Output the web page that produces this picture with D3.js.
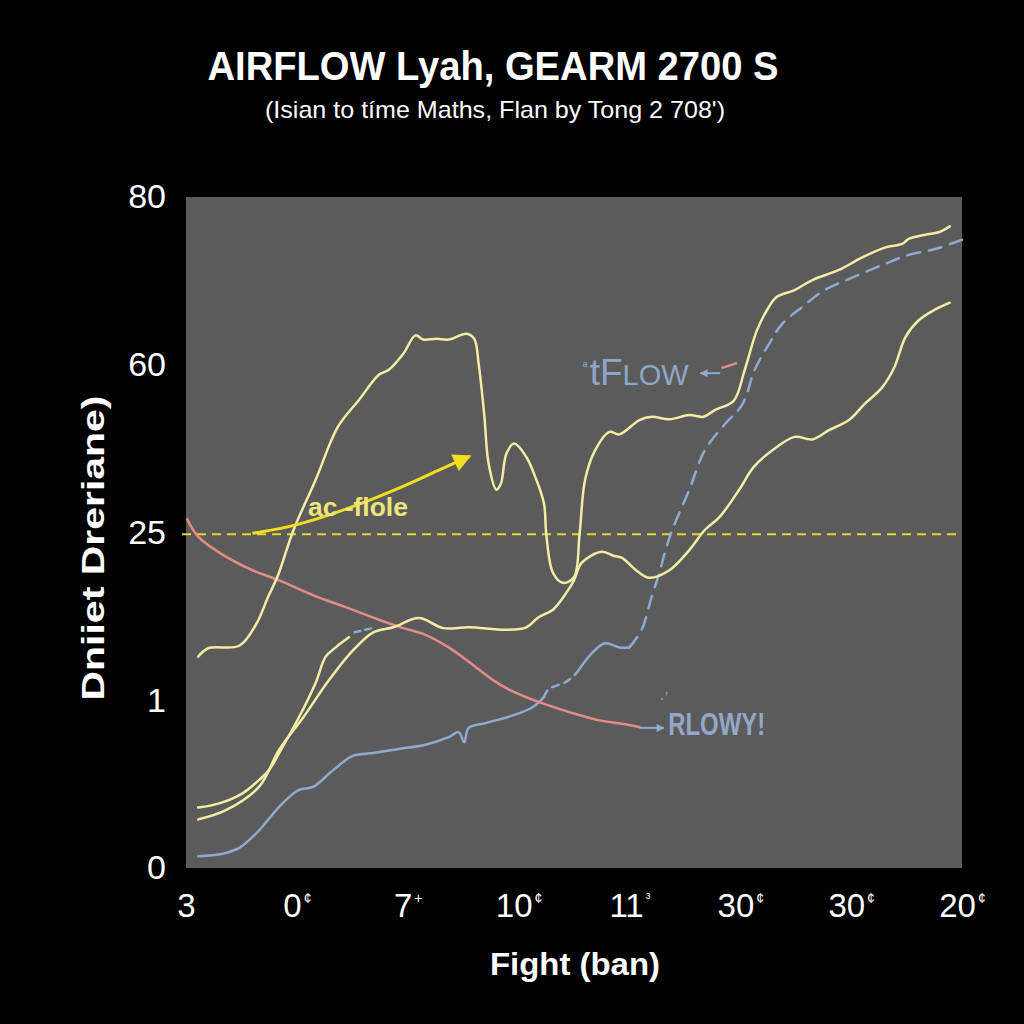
<!DOCTYPE html>
<html>
<head>
<meta charset="utf-8">
<script src="https://cdn.jsdelivr.net/npm/d3@7"></script>
<style>
  body { margin: 0; background: #000; }
  text { font-family: "Liberation Sans", Arial, sans-serif; }
</style>
</head>
<body>
<div id="chart"></div>
<script>
// tick labels (as printed on the picture)
var xTickValues = [0, 10, 20, 30, 40, 50, 60, 70];
var xTickLabels = ["3", "0", "7", "10", "11", "30", "30", "20"];
var xTickMarks = ["", "\u00a2", "+", "\u00a2", "\u00b3", "\u00a2", "\u00a2", "\u00a2"];
var yTickValues = [0, 20, 40, 60, 80];
var yTickLabels = ["0", "1", "25", "60", "80"];

// series, [x, y]
var humpLine = [[1.1,25.2],[2.0,26.2],[4.8,26.5],[6.3,29.0],[7.4,32.3],[8.3,34.9],[9.7,40.3],[11.7,46.3],
  [13.7,52.6],[15.6,55.8],[17.4,58.8],[18.3,59.4],[19.6,61.3],[20.7,63.5],[21.4,63.0],[22.6,63.1],[23.7,63.0],
  [25.3,63.7],[26.0,63.1],[26.4,60.1],[26.9,54.1],[27.3,48.2],[28.0,45.1],[28.4,45.8],[28.9,49.4],[29.6,50.6],
  [30.7,49.0],[31.6,46.3],[32.3,43.4],[32.5,39.8],[33.1,35.2],[34.0,34.0],[35.0,34.7],[35.5,39.8],[36.0,46.3],
  [36.9,49.8],[38.2,52.0],[39.1,51.7],[40.9,53.4],[42.0,53.8],[43.6,53.5],[45.4,54.0],[46.7,53.8],[47.7,54.6],
  [49.4,55.7],[50.4,59.4],[51.5,64.1],[52.4,66.5],[53.3,68.1],[54.9,68.9],[56.5,70.1],[58.9,71.3],[61.0,72.8],
  [63.1,74.0],[64.6,74.4],[65.2,75.0],[66.7,75.5],[67.9,75.8],[68.9,76.5]];

var midLine = [[1.1,5.8],[3.6,6.9],[6.6,9.7],[8.4,14.1],[10.6,18.0],[12.9,22.4],[15.1,26.0],[16.9,28.1],
  [18.7,28.7],[21.0,29.8],[23.2,28.6],[25.5,28.7],[28.9,28.4],[30.7,28.7],[31.8,29.9],[33.1,30.8],[34.3,32.8],
  [35.0,34.3],[35.7,36.4],[37.5,37.7],[38.6,37.2],[39.3,37.0],[40.6,35.5],[41.8,34.6],[43.6,35.5],[45.4,37.9],
  [46.8,40.3],[48.1,41.8],[49.9,45.1],[51.2,47.8],[52.9,49.8],[54.9,51.4],[56.5,51.1],[58.0,52.2],[59.8,53.4],
  [61.2,55.3],[62.8,57.3],[63.9,59.7],[64.9,63.3],[66.1,65.3],[67.6,66.6],[68.9,67.4]];

var shortLine = [[1.1,7.2],[3.0,7.7],[5.1,8.9],[6.6,10.5],[7.5,11.7],[8.7,14.4],[10.2,18.0],[11.7,22.1],
  [12.6,25.2],[13.5,26.3],[14.7,27.5]];
var shortTail = [[15.2,28.1],[16.8,28.6]];

var blueLine = [[1.1,1.4],[3.3,1.7],[4.8,2.4],[6.6,4.5],[8.4,7.3],[9.9,9.1],[10.4,9.4],[11.5,9.7],[13.3,11.7],
  [15.1,13.4],[16.9,13.7],[19.2,14.2],[21.6,14.7],[23.7,15.6],[24.6,16.2],[25.1,15.0],[25.5,16.7],[27.1,17.3],
  [29.5,18.2],[31.3,19.2],[32.3,20.4],[32.7,21.3],[34.3,22.2],[35.2,23.2],[36.6,25.6],[37.8,26.8],[39.1,26.3],
  [40.0,26.3],[41.1,28.4],[42.0,32.3],[42.7,35.2],[43.2,37.6],[43.8,40.1],[45.4,45.1],[46.8,49.8],[48.6,52.9],
  [50.2,55.3],[51.3,59.4],[52.6,62.5],[53.8,64.9],[55.6,66.9],[57.6,68.9],[60.3,70.5],[63.0,72.0],[65.2,73.1],
  [67.6,73.8],[70.0,74.9]];

var pinkLine = [[0.1,41.6],[1.1,39.5],[3.0,37.6],[6.0,35.5],[8.4,34.3],[11.5,32.5],[14.4,31.1],[17.4,29.6],
  [19.6,28.6],[21.6,27.8],[23.7,26.3],[25.5,24.6],[27.7,22.4],[29.1,21.3],[31.8,19.8],[34.8,18.5],[37.3,17.6],
  [39.3,17.2],[40.9,16.8]];

var refLevel = 39.8;
var yellowArrow = [[6.0,39.9],[9.8,40.7],[14.8,42.9],[19.0,45.1],[22.9,47.5],[25.6,49.1]];

var svgWidth = 1024, svgHeight = 1024;
var margin = { top: 197, right: 62, bottom: 156, left: 186 };
var width = svgWidth - margin.left - margin.right;
var height = svgHeight - margin.top - margin.bottom;

var svg = d3.select("#chart").append("svg")
  .attr("width", svgWidth)
  .attr("height", svgHeight)
  .style("background", "#000");

var defs = svg.append("defs");
function addMarker(id, color, w, h) {
  defs.append("marker")
    .attr("id", id)
    .attr("viewBox", "0 0 10 10")
    .attr("refX", 9).attr("refY", 5)
    .attr("markerUnits", "userSpaceOnUse")
    .attr("markerWidth", w).attr("markerHeight", h)
    .attr("orient", "auto")
    .append("path").attr("d", "M0,0L10,5L0,10Z").attr("fill", color);
}
addMarker("arrowYellow", "#f2e020", 22, 18);
addMarker("arrowBlue", "#8faad0", 10, 8);

// titles
svg.append("text")
  .attr("x", 493).attr("y", 80)
  .attr("text-anchor", "middle")
  .attr("font-size", 40).attr("font-weight", "bold")
  .attr("textLength", 571).attr("lengthAdjust", "spacingAndGlyphs")
  .attr("fill", "#fff")
  .text("AIRFLOW Lyah, GEARM 2700 S");

svg.append("text")
  .attr("x", 495).attr("y", 118)
  .attr("text-anchor", "middle")
  .attr("font-size", 24)
  .attr("textLength", 460).attr("lengthAdjust", "spacingAndGlyphs")
  .attr("fill", "#fff")
  .text("(Isian to t\u00edme Maths, Flan by Tong 2 708')");

var chartGroup = svg.append("g")
  .attr("transform", `translate(${margin.left}, ${margin.top})`);

chartGroup.append("rect")
  .attr("width", width).attr("height", height)
  .attr("fill", "#5b5b5b");

var x = d3.scaleLinear().domain([0, 70]).range([0, width]);
var y = d3.scaleLinear().domain([0, 80]).range([height, 0]);

// axes
var bottomAxis = d3.axisBottom(x).tickValues(xTickValues)
  .tickFormat((d, i) => xTickLabels[i]).tickSize(0).tickPadding(26);
var leftAxis = d3.axisLeft(y).tickValues(yTickValues)
  .tickFormat((d, i) => yTickLabels[i]).tickSize(0).tickPadding(20);

var xAxisG = chartGroup.append("g")
  .attr("transform", `translate(0, ${height})`)
  .call(bottomAxis);
xAxisG.select(".domain").remove();
xAxisG.selectAll("text")
  .attr("font-size", 33).attr("fill", "#fff")
  .style("font-family", "'Liberation Sans', Arial, sans-serif")
  .each(function(d, i) {
    if (xTickMarks[i]) {
      d3.select(this).append("tspan")
        .attr("font-size", 14).attr("dy", "-1.0em").attr("dx", 2)
        .text(xTickMarks[i]);
    }
  });

var yAxisG = chartGroup.append("g").call(leftAxis);
yAxisG.select(".domain").remove();
yAxisG.selectAll("text")
  .attr("font-size", 34).attr("fill", "#fff")
  .style("font-family", "'Liberation Sans', Arial, sans-serif");

// axis titles
svg.append("text")
  .attr("transform", "translate(104, 548) rotate(-90)")
  .attr("text-anchor", "middle")
  .attr("font-size", 32).attr("font-weight", "bold")
  .attr("textLength", 305).attr("lengthAdjust", "spacingAndGlyphs")
  .attr("fill", "#fff")
  .text("Dniiet Dreriane)");

svg.append("text")
  .attr("x", 575).attr("y", 975)
  .attr("text-anchor", "middle")
  .attr("font-size", 31).attr("font-weight", "bold")
  .attr("textLength", 170).attr("lengthAdjust", "spacingAndGlyphs")
  .attr("fill", "#fff")
  .text("Fight (ban)");

// reference dashed line
chartGroup.append("line")
  .attr("x1", -4).attr("x2", width)
  .attr("y1", y(refLevel)).attr("y2", y(refLevel))
  .attr("stroke", "#e6d62a").attr("stroke-width", 2)
  .attr("stroke-dasharray", "9,6");

var line = d3.line()
  .x(d => x(d[0]))
  .y(d => y(d[1]))
  .curve(d3.curveCatmullRom.alpha(0.5));

function drawLine(data, color, dash) {
  chartGroup.append("path")
    .datum(data)
    .attr("d", line)
    .attr("fill", "none")
    .attr("stroke", color)
    .attr("stroke-width", 2.5)
    .attr("stroke-linecap", "round")
    .attr("stroke-dasharray", dash || null);
}

function between(data, x0, x1) {
  return data.filter(d => d[0] >= x0 && d[0] <= x1);
}

// blue line switches between solid and dashed
drawLine(between(blueLine, 0, 32.3), "#8eaad0");
drawLine(between(blueLine, 32.3, 35.2), "#8eaad0", "7,6");
drawLine(between(blueLine, 35.2, 40.0), "#8eaad0");
drawLine(between(blueLine, 40.0, 70), "#8eaad0", "13,9");

drawLine(pinkLine, "#e48b88");
drawLine(shortLine, "#f2eda4");
drawLine(shortTail, "#8eaad0", "6,5");
drawLine(midLine, "#f2eda4");
drawLine(humpLine, "#f2eda4");

// yellow annotation arrow
var arrowLine = d3.line()
  .x(d => x(d[0]))
  .y(d => y(d[1]))
  .curve(d3.curveBasis);
chartGroup.append("path")
  .datum(yellowArrow)
  .attr("d", arrowLine)
  .attr("fill", "none")
  .attr("stroke", "#f2e020")
  .attr("stroke-width", 3)
  .attr("marker-end", "url(#arrowYellow)");

chartGroup.append("text")
  .attr("x", x(11.0)).attr("y", y(42.0))
  .attr("font-size", 26).attr("font-weight", "bold")
  .attr("textLength", 100).attr("lengthAdjust", "spacingAndGlyphs")
  .attr("fill", "#ece47c")
  .text("ac -flole");

// "tFLOW" label with arrow
var flowLabel = chartGroup.append("text")
  .attr("x", x(35.8)).attr("y", y(57.6))
  .attr("fill", "#8ea6c8");
flowLabel.append("tspan").attr("font-size", 13).attr("dy", -14).text("\u00aa");
flowLabel.append("tspan").attr("font-size", 37).attr("dy", 14).attr("dx", 2).text("t");
flowLabel.append("tspan").attr("font-size", 37).text("F");
flowLabel.append("tspan").attr("font-size", 29).text("LOW");

chartGroup.append("line")
  .attr("x1", x(48.2)).attr("y1", y(59.0))
  .attr("x2", x(46.4)).attr("y2", y(59.0))
  .attr("stroke", "#8faad0").attr("stroke-width", 2)
  .attr("marker-end", "url(#arrowBlue)");
chartGroup.append("line")
  .attr("x1", x(48.3)).attr("y1", y(59.6))
  .attr("x2", x(49.7)).attr("y2", y(60.2))
  .attr("stroke", "#e48b88").attr("stroke-width", 2.5);

// "RLOWY!" label with arrow
chartGroup.append("line")
  .attr("x1", x(40.9)).attr("y1", y(16.7))
  .attr("x2", x(43.1)).attr("y2", y(16.7))
  .attr("stroke", "#8faad0").attr("stroke-width", 2)
  .attr("marker-end", "url(#arrowBlue)");
chartGroup.append("text")
  .attr("x", x(43.5)).attr("y", y(15.8))
  .attr("font-size", 31).attr("font-weight", "bold")
  .attr("textLength", 97).attr("lengthAdjust", "spacingAndGlyphs")
  .attr("fill", "#93a8c8")
  .text("RLOWY!");
chartGroup.append("text")
  .attr("x", x(42.7)).attr("y", y(19.5))
  .attr("font-size", 16).attr("fill", "#93a8c8")
  .text("\u00b7\u2019");
</script>
</body>
</html>
